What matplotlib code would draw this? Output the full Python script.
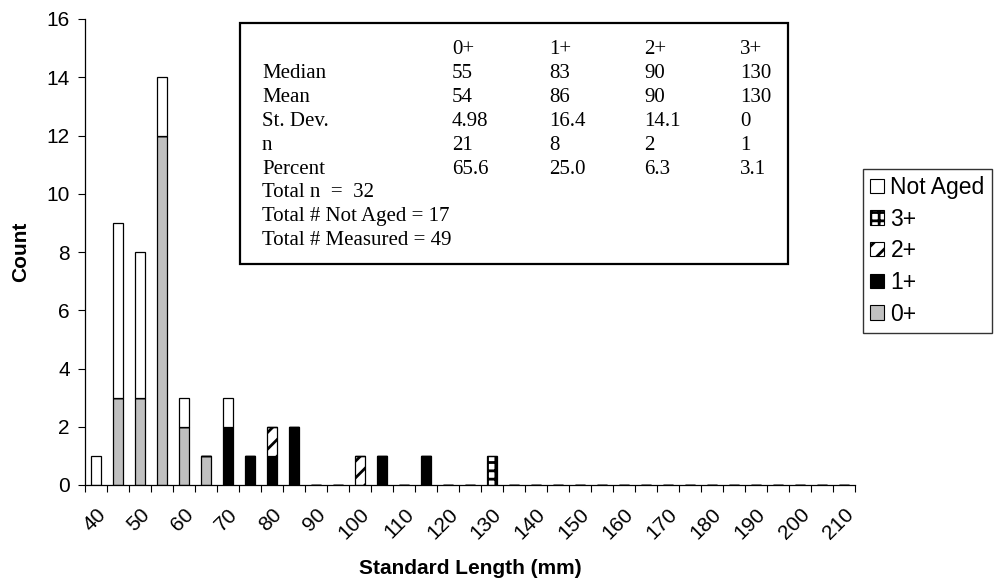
import numpy as np
import matplotlib
matplotlib.use("Agg")
import matplotlib.pyplot as plt
from matplotlib.patches import Rectangle, Patch

# length classes (mm), one bar each
lengths = [40, 45, 50, 55, 60, 65, 70, 75, 80, 85, 90, 95, 100, 105, 110, 115, 120,
           125, 130, 135, 140, 145, 150, 155, 160, 165, 170, 175, 180, 185, 190, 195,
           200, 205, 210]

age0 = [0, 3, 3, 12, 2, 1, 0, 0, 0, 0, 0, 0, 0, 0, 0, 0, 0, 0, 0,
        0, 0, 0, 0, 0, 0, 0, 0, 0, 0, 0, 0, 0, 0, 0, 0]
age1 = [0, 0, 0, 0, 0, 0, 2, 1, 1, 2, 0, 0, 0, 1, 0, 1, 0, 0, 0,
        0, 0, 0, 0, 0, 0, 0, 0, 0, 0, 0, 0, 0, 0, 0, 0]
age2 = [0, 0, 0, 0, 0, 0, 0, 0, 1, 0, 0, 0, 1, 0, 0, 0, 0, 0, 0,
        0, 0, 0, 0, 0, 0, 0, 0, 0, 0, 0, 0, 0, 0, 0, 0]
age3 = [0, 0, 0, 0, 0, 0, 0, 0, 0, 0, 0, 0, 0, 0, 0, 0, 0, 0, 1,
        0, 0, 0, 0, 0, 0, 0, 0, 0, 0, 0, 0, 0, 0, 0, 0]
not_aged = [1, 6, 5, 2, 1, 0, 1, 0, 0, 0, 0, 0, 0, 0, 0, 0, 0, 0, 0,
            0, 0, 0, 0, 0, 0, 0, 0, 0, 0, 0, 0, 0, 0, 0, 0]

# summary table
age_cols = ["0+", "1+", "2+", "3+"]
stat_rows = ["Median", "Mean", "St. Dev.", "n", "Percent"]
stat_vals = [["55", "83", "90", "130"],
             ["54", "86", "90", "130"],
             ["4.98", "16.4", "14.1", "0"],
             ["21", "8", "2", "1"],
             ["65.6", "25.0", "6.3", "3.1"]]
totals = ["Total n  =  32", "Total # Not Aged = 17", "Total # Measured = 49"]

plt.rcParams['font.family'] = ['Liberation Sans', 'DejaVu Sans']
plt.rcParams['hatch.linewidth'] = 2.0

W, H = 994, 586
fig = plt.figure(figsize=(W / 100, H / 100), dpi=100)
ax = fig.add_axes([85 / W, 1 - 485 / H, 770 / W, 466 / H])

x = np.arange(len(lengths))
series = [
    (age0, "0+", dict(color="#c0c0c0")),
    (age1, "1+", dict(color="black")),
    (age2, "2+", dict(color="white", hatch="//")),
    (age3, "3+", dict(color="white", hatch="++")),
    (not_aged, "Not Aged", dict(color="white")),
]
bottom = np.zeros(len(lengths))
handles = []
for vals, lab, st in series:
    vals = np.array(vals, dtype=float)
    ax.bar(x, vals, 0.42, bottom=bottom, edgecolor="black", linewidth=0.9, **st)
    bottom += vals
    handles.append(Patch(facecolor=st["color"], hatch=st.get("hatch"),
                         edgecolor="black", linewidth=0.8, label=lab))

ax.set_xlim(-0.5, len(lengths) - 0.5)
ax.set_ylim(0, 16)
ax.set_yticks(range(0, 17, 2))
ax.tick_params(axis="y", direction="out", length=5, labelsize=15, pad=6)

# tick marks between categories, labels on every other category
ax.set_xticks(np.arange(-0.5, len(lengths), 1))
ax.set_xticklabels([])
ax.tick_params(axis="x", which="major", direction="out", length=5)
ax.set_xticks(x[::2], minor=True)
ax.set_xticklabels([str(v) for v in lengths[::2]], minor=True, rotation=45,
                   ha="right", rotation_mode="anchor", fontsize=15)
ax.tick_params(axis="x", which="minor", length=0, pad=14)

for s in ["top", "right"]:
    ax.spines[s].set_visible(False)
for s in ["left", "bottom"]:
    ax.spines[s].set_linewidth(0.9)

ax.set_xlabel("Standard Length (mm)", fontsize=15, fontweight="bold", labelpad=12)
ax.set_ylabel("Count", fontsize=15, fontweight="bold", labelpad=12)

# stats box
fig.add_artist(Rectangle((240 / W, 1 - 264 / H), 548 / W, 241 / H,
                         transform=fig.transFigure, facecolor="white",
                         edgecolor="black", linewidth=1.6))
serif = dict(family=["Liberation Serif", "DejaVu Serif"], fontsize=15, va="center")
col_x = [452, 549, 644, 740]
row_y0, row_dy = 50, 23.8
for j, c in enumerate(age_cols):
    fig.text(col_x[j] / W, 1 - row_y0 / H, c, **serif)
for i, r in enumerate(stat_rows):
    y = 1 - (row_y0 + (i + 1) * row_dy) / H
    fig.text(262 / W, y, r, **serif)
    for j, v in enumerate(stat_vals[i]):
        fig.text(col_x[j] / W, y, v, **serif)
for k, t in enumerate(totals):
    y = 1 - (row_y0 + (len(stat_rows) + 1 + k) * row_dy) / H
    fig.text(262 / W, y, t, **serif)

fig.legend(handles=handles[::-1], loc="upper left",
           bbox_to_anchor=(863 / W, 1 - 169 / H), frameon=True, fancybox=False,
           edgecolor="black", fontsize=16.5, handlelength=0.6, handleheight=0.6,
           handletextpad=0.3, labelspacing=0.38, borderpad=0.3, borderaxespad=0)

fig.savefig("out.png", dpi=100)
